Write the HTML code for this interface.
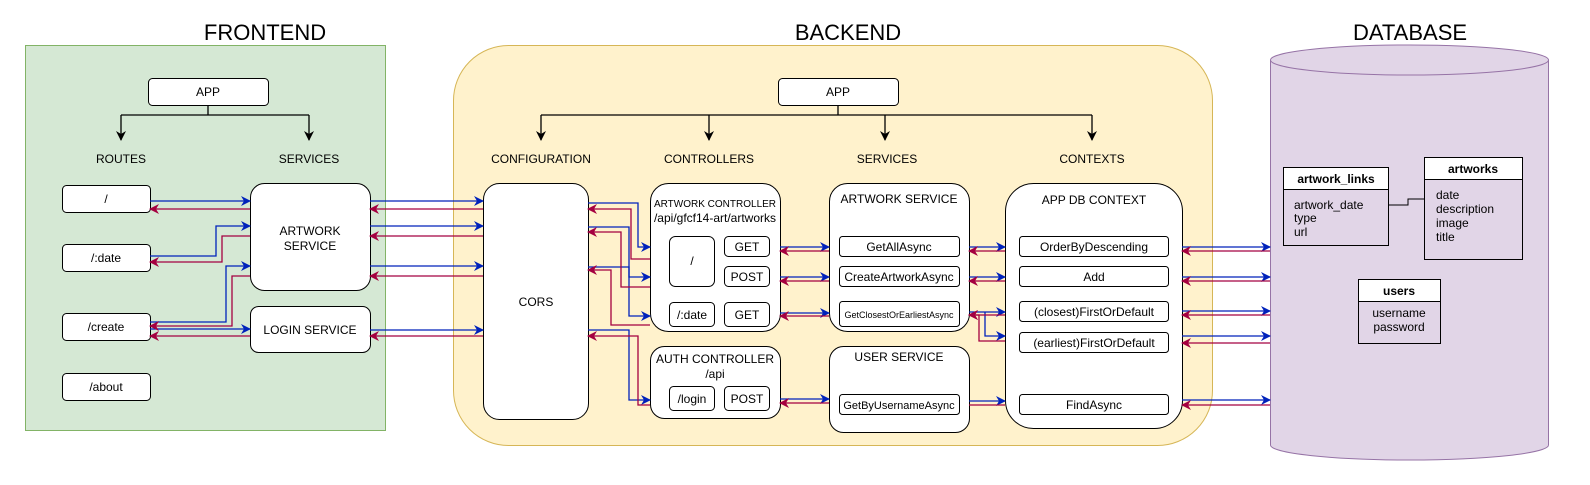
<!DOCTYPE html>
<html><head><meta charset="utf-8"><style>
html,body{margin:0;padding:0;background:#fff;}
svg text{font-family:"Liberation Sans",Arial,sans-serif;}
</style></head><body>
<svg width="1590" height="480" viewBox="0 0 1590 480" xmlns="http://www.w3.org/2000/svg">
<defs>
<marker id="b" markerWidth="10" markerHeight="10" refX="9" refY="5" orient="auto" markerUnits="userSpaceOnUse"><path d="M0,0 L10,5 L0,10 L3,5 z" fill="#0022bb"/></marker>
<marker id="r" markerWidth="10" markerHeight="10" refX="9" refY="5" orient="auto" markerUnits="userSpaceOnUse"><path d="M0,0 L10,5 L0,10 L3,5 z" fill="#a50040"/></marker>
<marker id="k" markerWidth="10" markerHeight="10" refX="9" refY="5" orient="auto" markerUnits="userSpaceOnUse"><path d="M0,0 L10,5 L0,10 L3,5 z" fill="#000"/></marker>
</defs>
<g font-size="12" text-anchor="middle" fill="#000">
<text x="265" y="40" font-size="22">FRONTEND</text>
<text x="848" y="40" font-size="22">BACKEND</text>
<text x="1410" y="40" font-size="22">DATABASE</text>
</g>
<!-- frontend -->
<rect x="25.5" y="45.5" width="360" height="385" fill="#d5e8d4" stroke="#82b366"/>
<!-- backend -->
<rect x="453.5" y="45.5" width="759" height="400" rx="55" fill="#fff2cc" stroke="#d6b656"/>
<!-- database -->
<path d="M1270.5,60 A139,15 0 0 1 1548.5,60 L1548.5,445 A139,15 0 0 1 1270.5,445 Z" fill="#e1d5e7" stroke="#9673a6"/>
<path d="M1270.5,60 A139,15 0 0 0 1548.5,60" fill="none" stroke="#9673a6"/>

<g fill="none" stroke="#000" stroke-width="1.3">
<path d="M208,105 V115 M121,115 H309 M121,115 V140" marker-end="url(#k)"/>
<path d="M309,115 V140" marker-end="url(#k)"/>
<path d="M838,105 V115 M541,115 H1092 M541,115 V140" marker-end="url(#k)"/>
<path d="M709,115 V140" marker-end="url(#k)"/>
<path d="M885,115 V140" marker-end="url(#k)"/>
<path d="M1092,115 V140" marker-end="url(#k)"/>
</g>

<g fill="#fff" stroke="#000" stroke-width="1">
<rect x="148.5" y="78.5" width="120" height="27" rx="4"/>
<rect x="62.5" y="185.5" width="88" height="27" rx="4"/>
<rect x="62.5" y="244.5" width="88" height="27" rx="4"/>
<rect x="62.5" y="313.5" width="88" height="27" rx="4"/>
<rect x="62.5" y="373.5" width="88" height="27" rx="4"/>
<rect x="250.5" y="183.5" width="120" height="107" rx="14"/>
<rect x="250.5" y="306.5" width="120" height="46" rx="8"/>
<rect x="778.5" y="78.5" width="120" height="27" rx="4"/>
<rect x="483.5" y="183.5" width="105" height="236" rx="16"/>
<rect x="650.5" y="183.5" width="130" height="148" rx="18"/>
<rect x="650.5" y="346.5" width="130" height="72" rx="14"/>
<rect x="669.5" y="236.5" width="45" height="50" rx="6"/>
<rect x="724.5" y="236.5" width="45" height="20" rx="4"/>
<rect x="724.5" y="266.5" width="45" height="20" rx="4"/>
<rect x="669.5" y="302.5" width="45" height="24" rx="4"/>
<rect x="724.5" y="302.5" width="45" height="24" rx="4"/>
<rect x="669.5" y="386.5" width="45" height="24" rx="4"/>
<rect x="724.5" y="386.5" width="45" height="24" rx="4"/>
<rect x="829.5" y="183.5" width="140" height="148" rx="18"/>
<rect x="829.5" y="346.5" width="140" height="86" rx="14"/>
<rect x="839.5" y="236.5" width="120" height="20" rx="3"/>
<rect x="839.5" y="266.5" width="120" height="20" rx="3"/>
<rect x="839.5" y="301.5" width="120" height="25" rx="3"/>
<rect x="839.5" y="394.5" width="120" height="20" rx="3"/>
<rect x="1005.5" y="183.5" width="177" height="245" rx="28"/>
<rect x="1019.5" y="236.5" width="149" height="20" rx="3"/>
<rect x="1019.5" y="266.5" width="149" height="20" rx="3"/>
<rect x="1019.5" y="301.5" width="149" height="20" rx="3"/>
<rect x="1019.5" y="332.5" width="149" height="20" rx="3"/>
<rect x="1019.5" y="394.5" width="149" height="20" rx="3"/>
</g>

<!-- tables -->
<g stroke="#000" stroke-width="1">
<rect x="1283.5" y="167.5" width="105" height="78" fill="#e1d5e7"/>
<rect x="1283.5" y="167.5" width="105" height="22" fill="#fff"/>
<rect x="1424.5" y="157.5" width="98" height="102" fill="#e1d5e7"/>
<rect x="1424.5" y="157.5" width="98" height="22" fill="#fff"/>
<rect x="1358.5" y="279.5" width="82" height="64" fill="#e1d5e7"/>
<rect x="1358.5" y="279.5" width="82" height="22" fill="#fff"/>
<path d="M1388,205 H1408 V199 H1424" fill="none"/>
</g>

<g font-size="12" text-anchor="middle" fill="#000">
<text x="208" y="96">APP</text>
<text x="121" y="163">ROUTES</text>
<text x="309" y="163">SERVICES</text>
<text x="106" y="203">/</text>
<text x="106" y="262">/:date</text>
<text x="106" y="331">/create</text>
<text x="106" y="391">/about</text>
<text x="310" y="235">ARTWORK</text>
<text x="310" y="250">SERVICE</text>
<text x="310" y="334">LOGIN SERVICE</text>
<text x="838" y="96">APP</text>
<text x="541" y="163">CONFIGURATION</text>
<text x="709" y="163">CONTROLLERS</text>
<text x="887" y="163">SERVICES</text>
<text x="1092" y="163">CONTEXTS</text>
<text x="536" y="306">CORS</text>
<text x="715" y="207" font-size="10">ARTWORK CONTROLLER</text>
<text x="715" y="222">/api/gfcf14-art/artworks</text>
<text x="692" y="265">/</text>
<text x="747" y="251">GET</text>
<text x="747" y="281">POST</text>
<text x="692" y="319">/:date</text>
<text x="747" y="319">GET</text>
<text x="715" y="363">AUTH CONTROLLER</text>
<text x="715" y="378">/api</text>
<text x="692" y="403">/login</text>
<text x="747" y="403">POST</text>
<text x="899" y="203">ARTWORK SERVICE</text>
<text x="899" y="251">GetAllAsync</text>
<text x="899" y="281">CreateArtworkAsync</text>
<text x="899" y="318" font-size="9">GetClosestOrEarliestAsync</text>
<text x="899" y="361">USER SERVICE</text>
<text x="899" y="409" font-size="11">GetByUsernameAsync</text>
<text x="1094" y="204">APP DB CONTEXT</text>
<text x="1094" y="251">OrderByDescending</text>
<text x="1094" y="281">Add</text>
<text x="1094" y="316">(closest)FirstOrDefault</text>
<text x="1094" y="347">(earliest)FirstOrDefault</text>
<text x="1094" y="409">FindAsync</text>
<text x="1336" y="183" font-weight="bold">artwork_links</text>
<text x="1473" y="173" font-weight="bold">artworks</text>
<text x="1399" y="295" font-weight="bold">users</text>
<text x="1399" y="317">username</text>
<text x="1399" y="331">password</text>
</g>
<g font-size="12" fill="#000">
<text x="1294" y="209">artwork_date</text>
<text x="1294" y="222">type</text>
<text x="1294" y="236">url</text>
<text x="1436" y="199">date</text>
<text x="1436" y="213">description</text>
<text x="1436" y="227">image</text>
<text x="1436" y="241">title</text>
</g>

<!-- blue arrows -->
<g fill="none" stroke="#0022bb" stroke-width="1.3" marker-end="url(#b)">
<path d="M150,201 H250"/>
<path d="M150,256 H216 V226 H250"/>
<path d="M150,322 H226 V266 H250"/>
<path d="M150,329 H250"/>
<path d="M370,201 H483"/>
<path d="M370,226 H483"/>
<path d="M370,266 H483"/>
<path d="M370,330 H483"/>
<path d="M588,203 H638 V247 H650"/>
<path d="M588,227 H629 V277 H650"/>
<path d="M588,267 H629 V316 H650"/>
<path d="M588,330 H629 V400 H650"/>
<path d="M780,247 H829"/>
<path d="M780,277 H829"/>
<path d="M780,313 H829"/>
<path d="M780,399 H829"/>
<path d="M969,247 H1005"/>
<path d="M969,277 H1005"/>
<path d="M969,312 H1005"/>
<path d="M985,312 V336 H1005"/>
<path d="M969,401 H1005"/>
<path d="M1182,247 H1270"/>
<path d="M1182,277 H1270"/>
<path d="M1182,311 H1270"/>
<path d="M1182,336 H1270"/>
<path d="M1182,400 H1270"/>
</g>
<!-- red arrows -->
<g fill="none" stroke="#a50040" stroke-width="1.3" marker-end="url(#r)">
<path d="M250,209 H150"/>
<path d="M250,236 H222 V262 H150"/>
<path d="M250,276 H232 V326 H150"/>
<path d="M250,336 H150"/>
<path d="M483,209 H370"/>
<path d="M483,236 H370"/>
<path d="M483,276 H370"/>
<path d="M483,336 H370"/>
<path d="M650,259 H631 V209 H588"/>
<path d="M650,287 H621 V232 H588"/>
<path d="M650,325 H611 V270 H588"/>
<path d="M650,405 H638 V336 H588"/>
<path d="M829,251 H780"/>
<path d="M829,281 H780"/>
<path d="M829,316 H780"/>
<path d="M829,403 H780"/>
<path d="M1005,251 H969"/>
<path d="M1005,281 H969"/>
<path d="M1005,315 H969"/>
<path d="M1005,341 H979 V315 H969"/>
<path d="M1270,251 H1182"/>
<path d="M1270,281 H1182"/>
<path d="M1270,315 H1182"/>
<path d="M1270,343 H1182"/>
<path d="M1270,405 H1182"/>
</g>
<path d="M1005,405 H969" stroke="#a50040" stroke-width="1.3" fill="none"/>
</svg>
</body></html>
